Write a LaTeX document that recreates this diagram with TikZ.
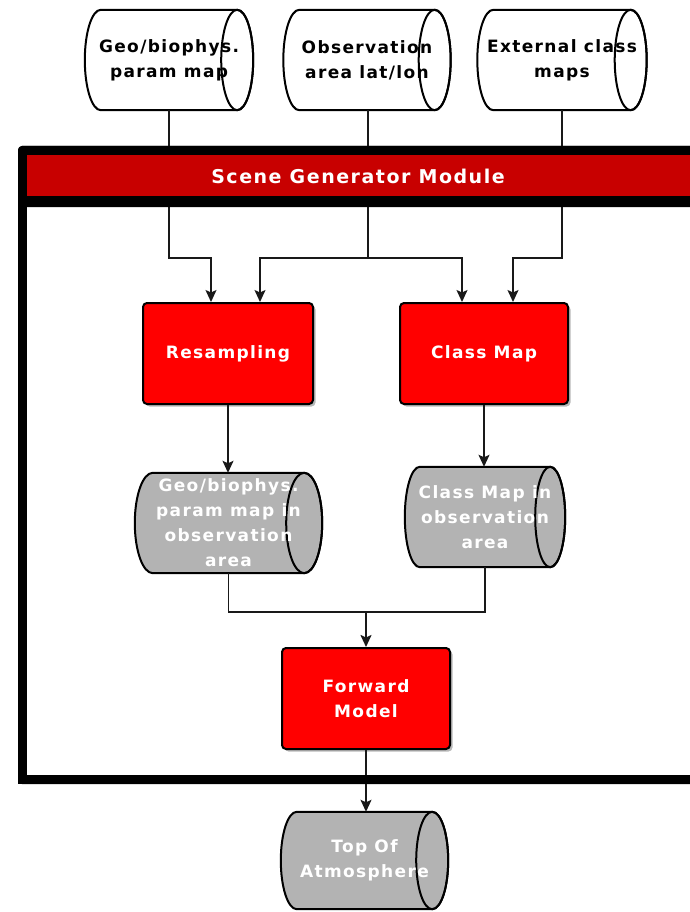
\documentclass[tikz,border=0pt]{standalone}
\usepackage{fontspec}
\setmainfont{DejaVu Sans}[LetterSpace=8]
\usetikzlibrary{shadows,arrows.meta,calc}
\pgfdeclarelayer{bg}
\pgfdeclarelayer{shapes}
\pgfdeclarelayer{front}
\pgfsetlayers{bg,shapes,main,front}
\definecolor{boxred}{HTML}{FF0000}
\definecolor{barred}{HTML}{C80000}
\definecolor{dbgrey}{HTML}{B3B3B3}

% horizontal data-store cylinder drawn round a named node:
% #1 node name, #2 x radius of the end ellipse, #3 fill colour
\newcommand\dbshape[3]{%
  \begin{pgfonlayer}{shapes}
    \foreach \dx/\dy/\st in {2.5pt/-2.5pt/dbshadow, 0pt/0pt/dbbody}{
      \path[\st, shift={(\dx,\dy)}, fill=#3]
        let \p1=(#1.north west), \p2=(#1.south east), \n2={(\y1-\y2)/2} in
        (\x2-#2,\y1) -- (\x1+#2,\y1)
          arc[start angle=90, end angle=270, x radius=#2, y radius=\n2]
          -- (\x2-#2,\y2)
          arc[start angle=-90, end angle=90, x radius=#2, y radius=\n2] -- cycle;
    }
    \draw[line width=2pt]
      let \p1=(#1.north west), \p2=(#1.south east), \n2={(\y1-\y2)/2}, \n3={(\y1+\y2)/2} in
      (\x2-#2,\n3) ellipse[x radius=#2, y radius=\n2];
  \end{pgfonlayer}}

\begin{document}
\begin{tikzpicture}[x=1pt,y=-1pt,
  every node/.style={font=\bfseries\fontsize{17}{25}\selectfont, align=center, inner sep=0pt},
  softshadow/.style={drop shadow={shadow xshift=2.5pt,shadow yshift=-2.5pt,opacity=.28,fill=black}},
  dbshadow/.style={opacity=.22},
  dbbody/.style={draw=black, line width=2pt},
  dbnode/.style={rectangle, minimum height=100pt},
  redbox/.style={rectangle, rounded corners=4pt, draw=black, line width=2pt, fill=boxred, text=white,
                 minimum width=168pt, minimum height=101pt, softshadow},
  link/.style={draw=black!90, line width=1.4pt},
  arr/.style={link, -{Stealth[width=11pt,length=12pt,inset=2.5pt]}},
  titletext/.style={font=\bfseries\fontsize{19}{23}\selectfont, text=white}
]
\useasboundingbox (0,0) rectangle (690,912);
\clip (0,0) rectangle (690,912);

% module frame (background part)
\begin{pgfonlayer}{bg}
  \fill[black, rounded corners=4pt] (18,146) rectangle (700,784);
  \fill[white] (27,207) rectangle (700,775);
\end{pgfonlayer}

% input data stores
\node[dbnode, minimum width=168pt, text=black] (geo) at (169,60) {Geo/biophys.\\param map};
\node[dbnode, minimum width=167pt, text=black] (obs) at (367,60) {Observation\\area lat/lon};
\node[dbnode, minimum width=169pt, text=black] (ext) at (562,60) {External class\\maps};
\dbshape{geo}{16pt}{white}
\dbshape{obs}{16pt}{white}
\dbshape{ext}{16pt}{white}

% processing steps
\node[redbox, minimum width=170pt] (res) at (228,353.5) {Resampling};
\node[redbox] (cls) at (484,353.5) {Class Map};

% intermediate data stores
\node[dbnode, minimum width=187pt, text=white] (gmap) at (228.5,523) {Geo/biophys.\\param map in\\observation\\area};
\node[dbnode, minimum width=160pt, text=white] (cmap) at (485,517) {Class Map in\\observation\\area};
\dbshape{gmap}{18pt}{dbgrey}
\dbshape{cmap}{15pt}{dbgrey}

\node[redbox] (fwd) at (366,698.5) {Forward\\Model};

\node[dbnode, minimum width=167pt, minimum height=97pt, text=white] (toa) at (364.5,860.5) {Top Of\\Atmosphere};
\dbshape{toa}{16pt}{dbgrey}

% bend points of the connectors
\coordinate (jg) at (211,258);
\coordinate (jo) at (368,258);
\coordinate (jol) at (260,258);
\coordinate (jor) at (462,258);
\coordinate (je) at (513,258);
\coordinate (jm) at (366,612);

% inputs into the module
\draw[arr] (geo.south) |- (jg) -- (jg |- res.north);
\draw[link] (obs.south -| jo) -- (jo);
\draw[arr] (jo) -- (jol) -- (jol |- res.north);
\draw[arr] (jo) -- (jor) -- (jor |- cls.north);
\draw[arr] (ext.south) |- (je) -- (je |- cls.north);

% resampled products
\draw[arr] (res.south) -- (res.south |- gmap.north);
\draw[arr] (cls.south) -- (cls.south |- cmap.north);

% merge into the forward model
\draw[link] (gmap.south) |- (jm);
\draw[link] (cmap.south) |- (jm);
\draw[arr, line width=2pt] (jm) -- (jm |- fwd.north);

% output
\draw[arr] (fwd.south) -- (fwd.south |- toa.north);

% module frame (title bar and bottom edge on top of the connectors)
\begin{pgfonlayer}{front}
  \fill[black, rounded corners=4pt] (18,146) rectangle (700,207);
  \fill[barred] (27,155) rectangle (700,196);
  \node[titletext] (title) at (358,176) {Scene Generator Module};
  \fill[black] (18,775) rectangle (700,784);
\end{pgfonlayer}
\end{tikzpicture}
\end{document}
